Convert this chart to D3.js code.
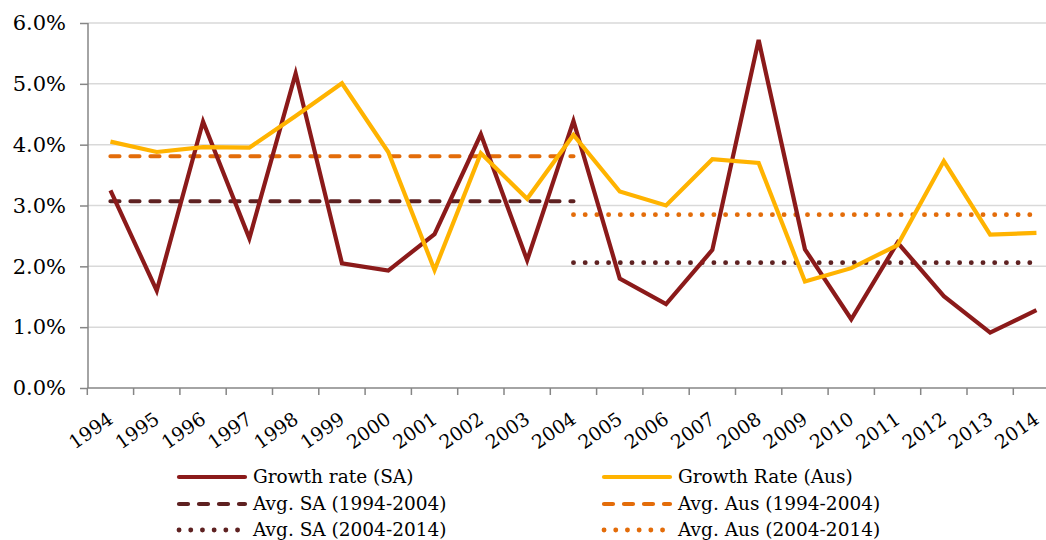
<!DOCTYPE html>
<html lang="en">
<head>
    <meta charset="UTF-8">
    <title>Growth rate SA vs Aus</title>
    <style>
        body { margin: 0; background: #fff; }
        svg { display: block; font-family: Georgia, "DejaVu Serif", serif; }
    </style>
</head>
<body>
    <svg width="1046" height="540"></svg>
    <script src="https://d3js.org/d3.v7.min.js"></script>
    <script>
        // data (percent)
        var years = ["1994","1995","1996","1997","1998","1999","2000","2001","2002","2003","2004",
                     "2005","2006","2007","2008","2009","2010","2011","2012","2013","2014"];
        var growthSA  = [3.25, 1.60, 4.38, 2.46, 5.17, 2.05, 1.93, 2.53, 4.17, 2.10, 4.39,
                         1.80, 1.38, 2.27, 5.72, 2.28, 1.13, 2.39, 1.51, 0.91, 1.28];
        var growthAus = [4.05, 3.88, 3.96, 3.95, 4.47, 5.01, 3.88, 1.94, 3.86, 3.11, 4.16,
                         3.23, 3.00, 3.76, 3.70, 1.75, 1.97, 2.35, 3.73, 2.52, 2.55];
        var avgSA1  = 3.07, avgAus1 = 3.81;   // 1994-2004
        var avgSA2  = 2.06, avgAus2 = 2.85;   // 2004-2014
        var yTicks = [0, 1, 2, 3, 4, 5, 6];

        var svg = d3.select("svg");

        var x = d3.scaleBand()
            .domain(years)
            .range([87.3, 87.3 + 21 * 46.3]);

        var y = d3.scaleLinear()
            .domain([0, 6])
            .range([388, 23]);

        var cx = function(d) { return x(d) + x.bandwidth() / 2; };

        // gridlines
        svg.append("g")
            .selectAll("line")
            .data(yTicks.slice(1))
            .enter().append("line")
            .attr("x1", 88).attr("x2", 1046)
            .attr("y1", function(d) { return y(d); })
            .attr("y2", function(d) { return y(d); })
            .attr("stroke", "#d9d9d9")
            .attr("stroke-width", 1.5);

        // y axis
        var yAxis = svg.append("g")
            .attr("transform", "translate(88,0)")
            .call(d3.axisLeft(y)
                .tickValues(yTicks)
                .tickSize(8)
                .tickPadding(14)
                .tickFormat(function(d) { return d.toFixed(1) + "%"; }));
        yAxis.select(".domain").attr("stroke", "#868686").attr("stroke-width", 1.5).attr("d", "M0,388V23");
        yAxis.selectAll(".tick line").attr("stroke", "#868686").attr("stroke-width", 1.5);
        yAxis.selectAll("text")
            .attr("font-size", 21)
            .attr("font-family", "Georgia, 'DejaVu Serif', serif")
            .attr("fill", "#000");

        // x axis
        var xAxis = svg.append("g");
        xAxis.append("line")
            .attr("x1", 87.3).attr("x2", 1046)
            .attr("y1", y(0)).attr("y2", y(0))
            .attr("stroke", "#868686").attr("stroke-width", 1.5);
        xAxis.selectAll(".xt")
            .data(years.concat(["end"]))
            .enter().append("line")
            .attr("class", "xt")
            .attr("x1", function(d, i) { return x.range()[0] + i * x.bandwidth(); })
            .attr("x2", function(d, i) { return x.range()[0] + i * x.bandwidth(); })
            .attr("y1", y(0)).attr("y2", y(0) + 7)
            .attr("stroke", "#868686").attr("stroke-width", 1.5);
        xAxis.selectAll("text")
            .data(years)
            .enter().append("text")
            .attr("transform", function(d) { return "translate(" + (cx(d) + 4) + ",422) rotate(-35)"; })
            .attr("text-anchor", "end")
            .attr("font-size", 19)
            .attr("fill", "#000")
            .text(function(d) { return d; });

        var line = d3.line()
            .x(function(d) { return cx(d[0]); })
            .y(function(d) { return y(d[1]); });

        function pairs(vals) {
            return years.map(function(yr, i) { return [yr, vals[i]]; });
        }

        var series = [
            { data: [["1994", avgSA1], ["2004", avgSA1]], color: "#5e2121", dash: "9,11", w: 4.2 },
            { data: [["1994", avgAus1], ["2004", avgAus1]], color: "#e36c09", dash: "9,11", w: 4.2 },
            { data: [["2004", avgSA2], ["2014", avgSA2]], color: "#5e2121", dash: "0.1,11.6", w: 4.8 },
            { data: [["2004", avgAus2], ["2014", avgAus2]], color: "#e36c09", dash: "0.1,11.6", w: 4.8 },
            { data: pairs(growthSA), color: "#8b1a1a", dash: null, w: 4.2 },
            { data: pairs(growthAus), color: "#ffb300", dash: null, w: 4.2 }
        ];

        svg.append("g")
            .selectAll("path")
            .data(series)
            .enter().append("path")
            .attr("d", function(d) { return line(d.data); })
            .attr("fill", "none")
            .attr("stroke", function(d) { return d.color; })
            .attr("stroke-width", function(d) { return d.w; })
            .attr("stroke-linejoin", "miter")
            .attr("stroke-linecap", function(d) { return d.dash ? "round" : "butt"; })
            .attr("stroke-dasharray", function(d) { return d.dash; });

        // legend
        var legend = [
            { label: "Growth rate (SA)", color: "#8b1a1a", dash: null, col: 0, row: 0 },
            { label: "Growth Rate (Aus)", color: "#ffb300", dash: null, col: 1, row: 0 },
            { label: "Avg. SA (1994-2004)", color: "#5e2121", dash: "9,11", col: 0, row: 1 },
            { label: "Avg. Aus (1994-2004)", color: "#e36c09", dash: "9,11", col: 1, row: 1 },
            { label: "Avg. SA (2004-2014)", color: "#5e2121", dash: "0.1,11.6", col: 0, row: 2 },
            { label: "Avg. Aus (2004-2014)", color: "#e36c09", dash: "0.1,11.6", col: 1, row: 2 }
        ];
        var colX = [177, 602];
        var rowY = [477, 504, 530];

        var lg = svg.append("g")
            .selectAll("g")
            .data(legend)
            .enter().append("g")
            .attr("transform", function(d) { return "translate(" + colX[d.col] + "," + rowY[d.row] + ")"; });
        lg.append("line")
            .attr("x1", 2).attr("x2", 68)
            .attr("stroke", function(d) { return d.color; })
            .attr("stroke-width", function(d) { return d.dash === "0.1,11.6" ? 4.8 : 4.2; })
            .attr("stroke-linecap", "round")
            .attr("stroke-dasharray", function(d) { return d.dash; });
        lg.append("text")
            .attr("x", 76)
            .attr("y", 6)
            .attr("font-size", 18.5)
            .attr("fill", "#000")
            .text(function(d) { return d.label; });
    </script>
</body>
</html>
